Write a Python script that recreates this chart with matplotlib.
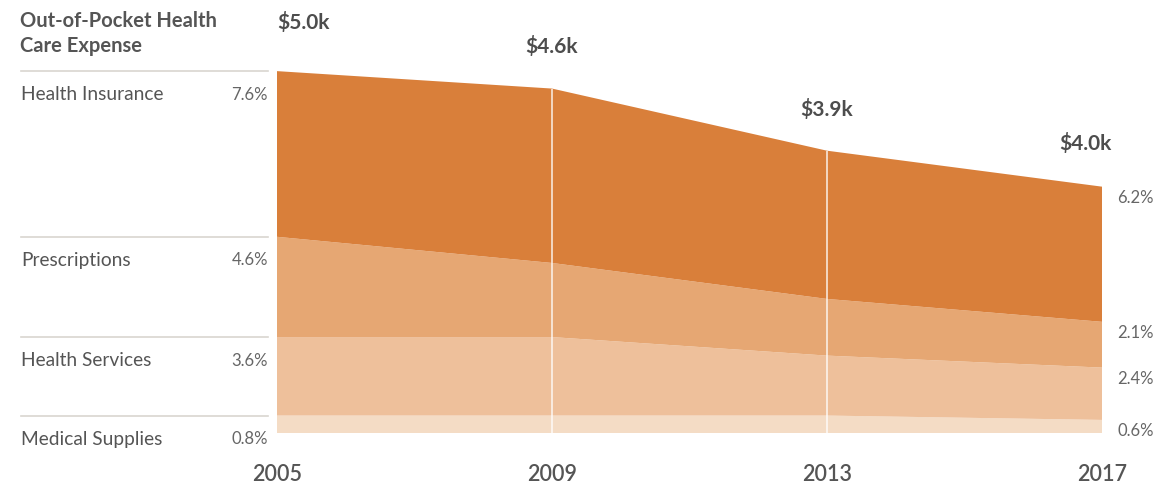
import matplotlib
matplotlib.use("Agg")
import matplotlib.pyplot as plt
import matplotlib.transforms as mtransforms
import numpy as np

# data
years = [2005, 2009, 2013, 2017]
categories = ["Medical Supplies", "Health Services", "Prescriptions", "Health Insurance"]
medical = [0.8, 0.8, 0.8, 0.6]
services = [3.6, 3.6, 2.75, 2.4]
prescriptions = [4.6, 3.4, 2.6, 2.1]
insurance = [7.6, 8.0, 6.8, 6.2]
dollars = ["$5.0k", "$4.6k", "$3.9k", "$4.0k"]
left_labels = ["0.8%", "3.6%", "4.6%", "7.6%"]
right_labels = ["0.6%", "2.4%", "2.1%", "6.2%"]

colors = ["#F4DCC5", "#EEC09B", "#E6A773", "#D97F3A"]
FONT = ["Lato", "DejaVu Sans"]
plt.rcParams["font.family"] = FONT

W, H = 1176, 490
fig = plt.figure(figsize=(W / 100, H / 100), dpi=100)
# axes placed in pixel terms: x 277..1102, baseline at y=433
ax_l, ax_r, ax_b = 277, 1102, 433
ymax = 18.0
px_per_unit = 21.8
ax_h = ymax * px_per_unit
ax = fig.add_axes([ax_l / W, (H - ax_b) / H, (ax_r - ax_l) / W, ax_h / H])

layers = [medical, services, prescriptions, insurance]
ax.stackplot(years, *layers, colors=colors, linewidth=0)
ax.set_xlim(years[0], years[-1])
ax.set_ylim(0, ymax)

cum = np.cumsum(np.array(layers), axis=0)
totals = cum[-1]

# white separators at interior years
ax.vlines(years[1:-1], 0, totals[1:-1], colors="white", lw=1.3, alpha=0.75)

for s in ax.spines.values():
    s.set_visible(False)
ax.set_yticks([])
ax.set_xticks(years)
ax.set_xticklabels([str(y) for y in years], fontsize=15.5, color="#555555",
                   fontweight="semibold")
ax.tick_params(axis="x", length=0, pad=22)

# left legend rows
trans = mtransforms.blended_transform_factory(ax.transAxes, ax.transData)
x0 = (21 - ax_l) / (ax_r - ax_l)
x1 = (268 - ax_l) / (ax_r - ax_l)
for i, name in enumerate(categories):
    top = cum[i][0]
    ax.plot([x0, x1], [top, top], transform=trans, color="#d9d6d0", lw=1.2,
            clip_on=False)
    ax.annotate(name, xy=(x0, top), xycoords=trans, xytext=(0, -17),
                textcoords="offset points", ha="left", va="center",
                fontsize=13.8, color="#555555")
    ax.annotate(left_labels[i], xy=(x1, top), xycoords=trans, xytext=(0, -17),
                textcoords="offset points", ha="right", va="center",
                fontsize=12, color="#666666")

# right-hand values
for i in range(len(categories)):
    ax.annotate(right_labels[i], xy=(years[-1], cum[i][-1]), xytext=(11, -8),
                textcoords="offset points", ha="left", va="center",
                fontsize=12, color="#666666", annotation_clip=False)

# dollar totals
for j, yr in enumerate(years):
    if j == 0:
        ha, dx, dy = "left", 0, 35
    elif j == len(years) - 1:
        ha, dx, dy = "center", -12, 31
    else:
        ha, dx, dy = "center", 0, 30
    ax.annotate(dollars[j], xy=(yr, totals[j]), xytext=(dx, dy),
                textcoords="offset points", ha=ha, va="center",
                fontsize=15, fontweight="bold", color="#4d4d4d",
                annotation_clip=False)

fig.text(20 / W, 1 - 11 / H, "Out-of-Pocket Health\nCare Expense", ha="left",
         va="top", fontsize=14.5, fontweight="bold", color="#555555",
         linespacing=1.3)

fig.savefig("out.png", dpi=100)
